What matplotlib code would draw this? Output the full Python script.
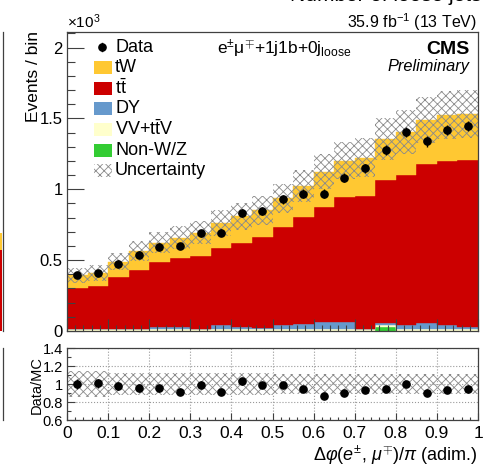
import matplotlib
matplotlib.use('Agg')
import matplotlib.pyplot as plt
import numpy as np
from matplotlib.ticker import MultipleLocator, FixedLocator
from matplotlib.patches import Rectangle
from matplotlib.lines import Line2D

# ---------------- data ----------------
bin_edges = np.linspace(0.0, 1.0, 21)
data = np.array([393, 410, 476, 539, 596, 600, 690, 695, 833, 845,
                 929, 969, 969, 1083, 1147, 1277, 1404, 1338, 1418, 1447])
tw = np.array([88, 90, 108, 136, 136, 147, 166, 181, 185, 191,
               203, 222, 249, 257, 271, 289, 305, 305, 325, 323])
ttbar = np.array([293, 305, 368, 413, 462, 486, 515, 541, 594, 641,
                  693, 754, 813, 880, 938, 1007, 1059, 1125, 1156, 1184])
dy = np.array([1, 1, 2, 4, 15, 15, 3, 31, 19, 8,
               29, 39, 51, 55, 4, 18, 29, 46, 34, 15])
vv_ttv = np.array([9] * 20)
non_wz = np.array([2] * 15 + [30] + [2] * 4)
rel_unc = np.array([0.14, 0.14, 0.12, 0.12, 0.12, 0.12, 0.12, 0.12, 0.12, 0.12,
                    0.11, 0.11, 0.11, 0.11, 0.11, 0.11, 0.11, 0.11, 0.11, 0.11])

main_yticks = [0, 500, 1000, 1500, 2000]
main_yticklabels = ['0', '0.5', '1', '1.5', '2']
ratio_yticks = [0.6, 0.8, 1.0, 1.2, 1.4]
ratio_yticklabels = ['0.6', '0.8', '1', '1.2', '1.4']
xticks = [0, 0.1, 0.2, 0.3, 0.4, 0.5, 0.6, 0.7, 0.8, 0.9, 1.0]
xticklabels = ['0', '0.1', '0.2', '0.3', '0.4', '0.5', '0.6', '0.7', '0.8', '0.9', '1']

# ---------------- style ----------------
plt.rcParams['font.family'] = ['Liberation Sans', 'DejaVu Sans']
plt.rcParams['mathtext.fontset'] = 'custom'
plt.rcParams['mathtext.rm'] = 'Liberation Sans'
plt.rcParams['mathtext.it'] = 'Liberation Sans:italic'
plt.rcParams['mathtext.bf'] = 'Liberation Sans:bold'
plt.rcParams['mathtext.sf'] = 'Liberation Sans'
plt.rcParams['hatch.linewidth'] = 0.6

c_tw = '#ffc832'
c_tt = '#cc0000'
c_dy = '#6699cc'
c_vv = '#ffffcc'
c_nwz = '#33cc33'
c_hatch = '#8a8a8a'
c_frame = '#404040'
HATCH = 'xxxx'

W, H = 486, 466
fig = plt.figure(figsize=(W / 100, H / 100), dpi=100)


def fx(px):
    return px / W


def fy(py):
    return 1 - py / H


ax = fig.add_axes([fx(67), fy(331), fx(478) - fx(67), fy(32) - fy(331)])
rax = fig.add_axes([fx(67), fy(420), fx(478) - fx(67), fy(348) - fy(420)])

centers = 0.5 * (bin_edges[:-1] + bin_edges[1:])

# stacked histogram (bottom -> top)
base = np.zeros(20)
for vals, col in [(non_wz, c_nwz), (vv_ttv, c_vv), (dy, c_dy), (ttbar, c_tt), (tw, c_tw)]:
    top = base + vals
    ax.stairs(top, bin_edges, baseline=base, fill=True, facecolor=col, edgecolor=col, lw=0.3)
    base = top
mc = base

# uncertainty band
ax.stairs(mc * (1 + rel_unc), bin_edges, baseline=mc * (1 - rel_unc), fill=True,
          facecolor='none', edgecolor=c_hatch, hatch=HATCH, lw=0)

# data
ax.errorbar(centers, data, yerr=np.sqrt(data), fmt='o', color='k', ms=5.2,
            elinewidth=1.0, capsize=0, zorder=5)

ax.set_xlim(0, 1)
ax.set_ylim(0, 2110)
ax.yaxis.set_major_locator(FixedLocator(main_yticks))
ax.set_yticklabels(main_yticklabels)
ax.yaxis.set_minor_locator(MultipleLocator(100))
ax.xaxis.set_major_locator(FixedLocator(xticks))
ax.xaxis.set_minor_locator(MultipleLocator(0.02))
ax.tick_params(which='both', direction='in', top=False, right=False, labelbottom=False,
               labelsize=12, color=c_frame, pad=3)
ax.tick_params(axis='y', which='major', length=12, width=0.8)
ax.tick_params(axis='y', which='minor', length=6, width=0.8)
ax.tick_params(axis='x', which='major', length=9, width=0.8)
ax.tick_params(axis='x', which='minor', length=4.5, width=0.8)
for s in ax.spines.values():
    s.set_color(c_frame)
    s.set_linewidth(0.9)

# ratio panel
ratio = data / mc
ratio_err = np.sqrt(data) / mc
rax.stairs(1 + rel_unc, bin_edges, baseline=1 - rel_unc, fill=True,
           facecolor='none', edgecolor=c_hatch, hatch=HATCH, lw=0)
rax.errorbar(centers, ratio, yerr=ratio_err, fmt='o', color='k', ms=5.2,
             elinewidth=1.0, capsize=0, zorder=5)
rax.set_xlim(0, 1)
rax.set_ylim(0.6, 1.4)
rax.yaxis.set_major_locator(FixedLocator(ratio_yticks))
rax.set_yticklabels(ratio_yticklabels)
rax.yaxis.set_minor_locator(MultipleLocator(0.1))
rax.xaxis.set_major_locator(FixedLocator(xticks))
rax.set_xticklabels(xticklabels)
rax.xaxis.set_minor_locator(MultipleLocator(0.02))
rax.grid(True, which='major', ls=':', color='#999999', lw=0.8)
rax.tick_params(which='both', direction='in', top=False, right=False, color=c_frame)
rax.tick_params(axis='y', which='major', length=6, width=0.8, labelsize=10.5, pad=3)
rax.tick_params(axis='y', which='minor', length=3, width=0.8)
rax.tick_params(axis='x', which='major', length=5, width=0.8, labelsize=12.5, pad=4)
rax.tick_params(axis='x', which='minor', length=2.5, width=0.8)
for s in rax.spines.values():
    s.set_color(c_frame)
    s.set_linewidth(0.9)

# ---------------- texts ----------------
fig.text(fx(67), fy(28), r'$\times$10$^{3}$', ha='left', va='baseline', fontsize=11)
fig.text(fx(477), fy(28), r'35.9 fb$^{\mathregular{-1}}$ (13 TeV)', ha='right', va='baseline',
         fontsize=11.5)
fig.text(fx(33), fy(31), 'Events / bin', rotation=90, ha='center', va='top', fontsize=12.5)
fig.text(fx(37), fy(385), 'Data/MC', rotation=90, ha='center', va='center', fontsize=10.5)
fig.text(fx(477), fy(455), r'$\Delta\varphi(e^{\pm},\,\mu^{\mp})/\pi$ (adim.)', ha='right',
         va='center', fontsize=13)
fig.text(fx(469), fy(49.5), 'CMS', ha='right', va='center', fontsize=14, fontweight='bold')
fig.text(fx(469), fy(66.5), 'Preliminary', ha='right', va='center', fontsize=11.8,
         fontstyle='italic')
fig.text(fx(217), fy(53.5), r'e$^{\pm}$μ$^{\mp}$+1j1b+0j$_{\mathregular{loose}}$', ha='left',
         va='baseline', fontsize=12.5)

# ---------------- legend (manual) ----------------
leg_y = [47 + 20.6 * i for i in range(7)]
leg_labels = ['Data', 'tW', r't$\bar{\mathregular{t}}$', 'DY', r'VV+t$\bar{\mathregular{t}}$V',
              'Non-W/Z', 'Uncertainty']
leg_colors = [None, c_tw, c_tt, c_dy, c_vv, c_nwz, None]
for i, (yy, lab, col) in enumerate(zip(leg_y, leg_labels, leg_colors)):
    fig.text(fx(115), fy(yy), lab, ha='left', va='center', fontsize=13)
    if i == 0:
        fig.add_artist(Line2D([fx(102), fx(102)], [fy(yy + 4), fy(yy - 4)], color='k', lw=1.0))
        fig.add_artist(Line2D([fx(102)], [fy(yy)], marker='o', color='k', ms=5.2))
    elif i == 6:
        fig.add_artist(Rectangle((fx(94), fy(yy + 6.5)), fx(112) - fx(94), fy(yy - 6.5) - fy(yy + 6.5),
                                 transform=fig.transFigure, facecolor='none', edgecolor=c_hatch,
                                 hatch=HATCH, lw=0))
    else:
        fig.add_artist(Rectangle((fx(94), fy(yy + 6.5)), fx(112) - fx(94), fy(yy - 6.5) - fy(yy + 6.5),
                                 transform=fig.transFigure, facecolor=col, edgecolor='none', lw=0))

# ---------------- remnants of neighbouring panels ----------------
fig.text(fx(481), fy(1.0), 'Number of loose jets', ha='right', va='baseline', fontsize=15)
fig.add_artist(Rectangle((0, fy(331)), fx(2), fy(250) - fy(331), transform=fig.transFigure,
                         facecolor=c_tt, lw=0))
fig.add_artist(Rectangle((0, fy(250)), fx(2), fy(233) - fy(250), transform=fig.transFigure,
                         facecolor=c_tw, lw=0))
fig.add_artist(Line2D([fx(2.5), fx(2.5)], [fy(32), fy(331)], color=c_frame, lw=0.9))
fig.add_artist(Line2D([fx(2.5), fx(2.5)], [fy(348), fy(420)], color=c_frame, lw=0.9))

fig.savefig('out.png', dpi=100)
